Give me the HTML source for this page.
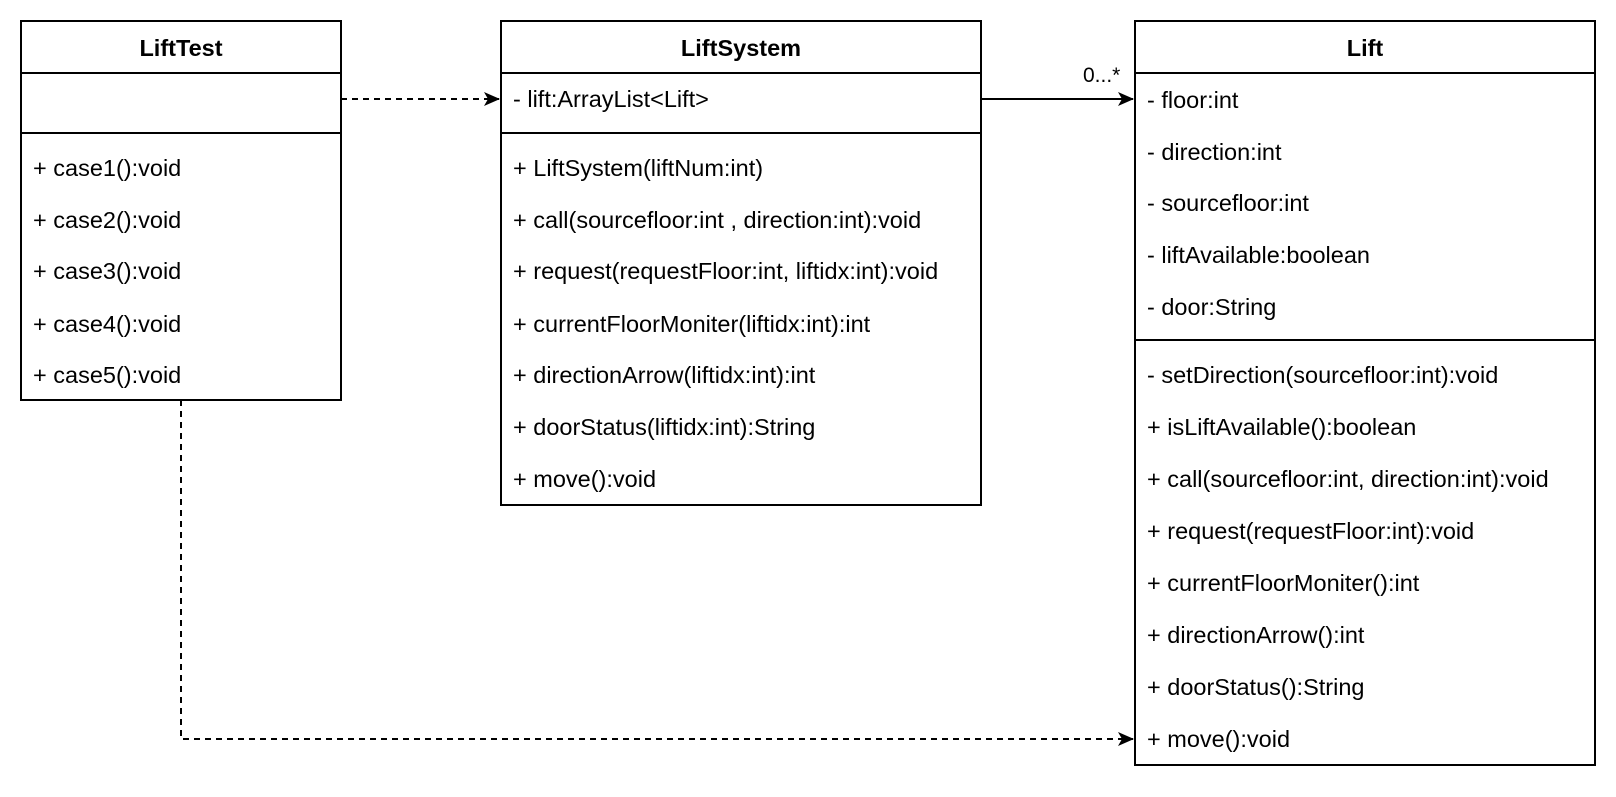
<!DOCTYPE html>
<html><head><style>
body{margin:0;background:#fff;width:1616px;height:792px;overflow:hidden;font-family:"Liberation Sans",Arial,sans-serif;}
svg text{font-family:"Liberation Sans",Arial,sans-serif;font-size:23.5px;fill:#000;}
.b{font-weight:bold;}
</style></head><body>
<svg width="1616" height="792" viewBox="0 0 1616 792" xmlns="http://www.w3.org/2000/svg">
<defs><marker id="a" markerWidth="16" markerHeight="14" refX="15" refY="7" orient="auto" markerUnits="userSpaceOnUse"><path d="M0,0 L16,7 L0,14 L4,7 Z" fill="#000"/></marker></defs>
<g fill="none" stroke="#000" stroke-width="2">
<rect x="21" y="21" width="320" height="379"/><line x1="21" y1="73" x2="341" y2="73"/><line x1="21" y1="133" x2="341" y2="133"/>
<rect x="501" y="21" width="480" height="484"/><line x1="501" y1="73" x2="981" y2="73"/><line x1="501" y1="133" x2="981" y2="133"/>
<rect x="1135" y="21" width="460" height="744"/><line x1="1135" y1="73" x2="1595" y2="73"/><line x1="1135" y1="340" x2="1595" y2="340"/>
</g>
<g stroke="#000" stroke-width="2" fill="none">
<path d="M341 99 H499" stroke-dasharray="6,5" marker-end="url(#a)"/>
<path d="M981 99 H1133" marker-end="url(#a)"/>
<path d="M181 400 V739 H1133" stroke-dasharray="6,5" marker-end="url(#a)"/>
</g>
<text x="1083" y="82" style="font-size:21px">0...*</text>
<text class="b" x="181" y="56" text-anchor="middle">LiftTest</text>
<text class="b" x="741" y="56" text-anchor="middle">LiftSystem</text>
<text class="b" x="1365" y="56" text-anchor="middle">Lift</text>
<g>
<text x="33" y="176">+ case1():void</text>
<text x="33" y="228">+ case2():void</text>
<text x="33" y="279">+ case3():void</text>
<text x="33" y="332">+ case4():void</text>
<text x="33" y="383">+ case5():void</text>
</g>
<g>
<text x="513" y="107">- lift:ArrayList&lt;Lift&gt;</text>
<text x="513" y="176">+ LiftSystem(liftNum:int)</text>
<text x="513" y="228">+ call(sourcefloor:int , direction:int):void</text>
<text x="513" y="279">+ request(requestFloor:int, liftidx:int):void</text>
<text x="513" y="332">+ currentFloorMoniter(liftidx:int):int</text>
<text x="513" y="383">+ directionArrow(liftidx:int):int</text>
<text x="513" y="435">+ doorStatus(liftidx:int):String</text>
<text x="513" y="487">+ move():void</text>
</g>
<g>
<text x="1147" y="108">- floor:int</text>
<text x="1147" y="160">- direction:int</text>
<text x="1147" y="211">- sourcefloor:int</text>
<text x="1147" y="263">- liftAvailable:boolean</text>
<text x="1147" y="315">- door:String</text>
<text x="1147" y="383">- setDirection(sourcefloor:int):void</text>
<text x="1147" y="435">+ isLiftAvailable():boolean</text>
<text x="1147" y="487">+ call(sourcefloor:int, direction:int):void</text>
<text x="1147" y="539">+ request(requestFloor:int):void</text>
<text x="1147" y="591">+ currentFloorMoniter():int</text>
<text x="1147" y="643">+ directionArrow():int</text>
<text x="1147" y="695">+ doorStatus():String</text>
<text x="1147" y="747">+ move():void</text>
</g>
</svg>
</body></html>
